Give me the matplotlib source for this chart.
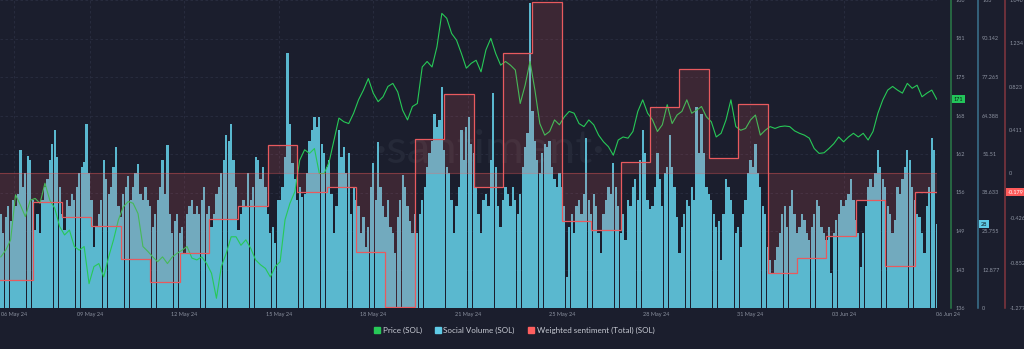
import numpy as np
import matplotlib.pyplot as plt
import matplotlib.transforms as mtransforms
from matplotlib.lines import Line2D

plt.rcParams['font.family'] = ['Lato', 'DejaVu Sans']

# social volume (SOL), 2-hourly, first bar 05 May 24 22:00
volume = [
    31.6, 25, 30.5, 34, 29, 36, 34, 38, 53, 40.6, 45, 51,
    49.5, 36, 26, 31.6, 25, 36, 40.6, 43, 49.5, 55, 59.5, 50.6,
    40.6, 31.6, 26, 36, 34, 38, 36, 40.6, 45, 47, 49, 61.7,
    45, 36, 20.5, 27, 31.6, 36, 49.5, 43, 38, 40.6, 47, 54,
    34, 30.5, 38, 40.6, 44, 36, 40.6, 45, 48, 38, 36, 40.6,
    36, 34, 27, 31.6, 36, 40.6, 49.5, 38, 54.5, 31.6, 25, 29,
    31.6, 25, 27, 18, 31.6, 34, 36, 31.6, 34, 31.6, 36, 40.6,
    31.6, 34, 27, 31.6, 38, 40.6, 45, 49.5, 57.8, 56, 61.7, 49.5,
    40.6, 26, 31.6, 36, 34, 45, 36, 40.6, 50.6, 49.5, 43, 47,
    40.6, 31.6, 25, 27, 21.6, 36, 36, 40.6, 50.6, 85.2, 61.7, 48.4,
    43, 36, 40.6, 37, 38, 45, 56, 59.5, 64, 60.6, 64, 55,
    51.7, 47, 49.5, 38, 25, 34, 59.5, 50.6, 54, 45, 51.7, 31.6,
    40.6, 36, 34, 25, 30.5, 20.5, 27, 40.6, 48.4, 36, 55.6, 40.6,
    34, 30.5, 36, 27, 25, 18.3, 30.5, 36, 44.5, 40.6, 34, 29,
    25, 31.6, 25, 31.6, 36, 40.6, 47, 51.7, 56, 65, 60.6, 62.8,
    73.8, 52.8, 47, 45, 36, 25, 34, 40.6, 59.5, 49.5, 60.6, 64,
    55, 51.7, 40.6, 31.6, 25, 36, 38, 34, 49.5, 71.8, 47, 34,
    27, 36, 40.6, 38, 34, 40.6, 36, 31.6, 38, 47, 54, 58.4,
    102, 66, 56, 49.5, 45, 51.7, 55, 54, 56, 47, 43, 40.6,
    45, 40.6, 34, 10.5, 27, 31.6, 25, 34, 36, 31.6, 38, 56.7,
    36, 31.6, 38, 34, 25, 18.3, 31.6, 36, 40.6, 38, 48.4, 40.6,
    34, 25, 31.6, 22.7, 36, 34, 40.6, 43, 36, 49.5, 59.5, 51.7,
    36, 33, 34, 40.6, 51.7, 43, 34, 45, 47, 57.8, 47, 40.6,
    30.5, 18.3, 27, 31.6, 36, 34, 40.6, 36, 67.3, 51.7, 65, 51.7,
    40.6, 38, 36, 31.6, 27, 29, 16, 31.6, 43, 40.6, 36, 31.6,
    25, 27, 20.5, 31.6, 36, 45, 49.5, 47, 55, 45, 40.6, 34,
    31.6, 20.5, 16, 11.6, 16, 20.5, 25, 31.6, 34, 27, 34, 39.5,
    31.6, 25, 27, 31.6, 29.4, 25, 22.7, 27, 31.6, 36, 34, 27,
    25, 22.7, 27, 11.6, 25, 29.4, 31.6, 36, 34, 36, 38, 43,
    36, 29.4, 25, 13.8, 25, 34, 40.6, 43, 40.6, 45, 52.8, 47,
    43, 40.6, 34, 31.6, 25, 29.4, 40.6, 38, 43, 47, 52.8, 49.5,
    40.6, 36, 31.6, 30.5, 25, 18.3, 34, 40.6, 56.7, 52.8, 28,
]

# price (SOL), 4-hourly, same start
price = [
    145.0, 146.1, 147.8, 155.2, 153.5, 151.6, 154.3, 154.6, 153.8, 157.1, 154.3, 153.0,
    150.0, 148.6, 149.4, 146.7, 146.1, 146.7, 140.6, 143.4, 143.9, 141.7, 145.0, 147.8,
    151.1, 153.2, 154.1, 153.8, 152.1, 146.7, 145.9, 145.0, 144.2, 145.0, 143.9, 145.0,
    145.6, 146.1, 146.7, 144.8, 144.5, 145.0, 143.9, 142.3, 138.2, 143.4, 145.6, 148.3,
    148.3, 146.9, 147.8, 146.4, 144.5, 143.7, 143.1, 141.7, 143.4, 144.2, 151.1, 153.8,
    155.7, 160.9, 162.6, 162.0, 162.8, 158.7, 158.7, 160.6, 164.2, 167.8, 167.2, 166.9,
    168.6, 170.8, 172.4, 174.3, 171.9, 170.5, 171.3, 173.0, 173.5, 172.1, 169.1, 167.5,
    169.7, 170.2, 176.2, 177.1, 176.2, 179.5, 185.0, 184.2, 181.7, 180.6, 178.4, 176.0,
    176.8, 177.3, 175.4, 179.0, 180.9, 178.4, 176.5, 177.1, 176.5, 175.7, 170.2, 173.2,
    177.1, 172.4, 166.9, 165.0, 165.6, 167.5, 166.7, 168.0, 168.9, 168.6, 166.9, 166.4,
    167.5, 166.7, 165.0, 163.9, 163.1, 161.7, 164.2, 164.7, 164.5, 165.6, 168.9, 170.8,
    168.6, 167.5, 165.6, 166.7, 170.0, 166.9, 168.3, 168.9, 170.8, 168.6, 169.1, 169.7,
    168.0, 167.2, 164.7, 165.3, 167.5, 170.8, 166.4, 165.8, 166.1, 167.5, 168.3, 165.0,
    165.8, 166.4, 166.1, 166.4, 166.5, 166.4, 165.7, 165.3, 165.0, 164.5, 162.8, 162.0,
    162.1, 162.8, 163.6, 164.7, 163.9, 164.7, 165.3, 164.7, 165.3, 164.2, 165.6, 168.6,
    170.8, 172.4, 173.0, 172.4, 171.9, 173.5, 172.7, 173.2, 171.3, 171.9, 172.4, 170.9,
]

# weighted sentiment (total), daily, 05 May .. 06 Jun
sentiment = [-1.01, -1.01, -0.27, -0.417, -0.502, -0.81, -1.03, -0.756, -0.429, -0.308,
             0.274, -0.178, -0.131, -0.746, -1.27, 0.328, 0.757, -0.131, 1.142, 1.63,
             -0.448, -0.534, 0.11, 0.627, 0.987, 0.142, 0.659, -0.947, -0.804, -0.591,
             -0.254, -0.883, -0.179]

date_labels = ['06 May 24', '09 May 24', '12 May 24', '15 May 24', '18 May 24', '21 May 24',
               '25 May 24', '28 May 24', '31 May 24', '03 Jun 24', '06 Jun 24']
date_pos = [0.36, 2.95, 6.15, 9.37, 12.57, 15.8, 19.0, 22.2, 25.4, 28.6, 32.13]

price_ticks = ['136', '143', '149', '156', '162', '168', '175', '181', '186']
volume_ticks = ['0', '12.877', '25.755', '38.633', '51.51', '64.388', '77.265', '90.142', '103']
sent_ticks = [-1.277, -0.852, -0.426, 0, 0.411, 0.823, 1.234, 1.646]

# days from 06 May 24 00:00
vol_t = -1 / 12 + np.arange(len(volume)) / 12
price_t = -1 / 12 + np.arange(len(price)) / 6
sent_edges = np.arange(-1, len(sentiment))

bg = '#1b1e2d'
c_price = '#27c957'
c_vol = '#5ab8cf'
c_sent = '#ff5f5f'

fig = plt.figure(figsize=(10.24, 3.49), dpi=100, facecolor=bg)
ax = fig.add_axes([0, 1 - 308 / 349, 937 / 1024, 308 / 349])
ax.set_facecolor(bg)
ax_p = ax.twinx()
ax_s = ax.twinx()

# social volume bars
ax.bar(vol_t, volume, width=1 / 12 * 0.92, color=c_vol, linewidth=0, zorder=2)
ax.set_ylim(0, 103.02)
ax.set_yticks(np.linspace(0, 103.02, 9))
ax.set_yticklabels(volume_ticks)
ax.set_xlim(-0.112, 31.76)
ax.set_xticks(date_pos[:-1])
ax.set_xticklabels(date_labels[:-1])
ax.set_axisbelow(True)
ax.grid(True, color='#2a2e41', linestyle=(0, (3, 3)), linewidth=0.6)
ax.text(0.523, 0.513, '\u00b7santiment\u00b7', transform=ax.transAxes, fontsize=34,
        color='#252938', ha='center', va='center', zorder=1)
tr = mtransforms.blended_transform_factory(ax.transData, ax.transAxes)
ax.text(date_pos[-1], -0.013, date_labels[-1], transform=tr, ha='center', va='top',
        fontsize=4, color='#8d93a1', clip_on=False)

# price line
ax_p.plot(price_t, price, color=c_price, linewidth=0.8)
ax_p.set_ylim(136.6, 187.2)
ax_p.set_yticks(np.linspace(136.6, 187.2, 9))
ax_p.set_yticklabels(price_ticks)

# sentiment steps, filled to zero
ax_s.stairs(sentiment, sent_edges, baseline=0, fill=True, color=c_sent, alpha=0.15, linewidth=0)
ax_s.stairs(sentiment, sent_edges, baseline=None, color='#e85a5e', linewidth=0.9)
ax_s.axhline(0, color=c_sent, alpha=0.35, linewidth=0.8)
ax_s.set_ylim(-1.277, 1.646)
ax_s.set_yticks(sent_ticks)
ax_s.set_yticklabels([('%g' % v) for v in sent_ticks])

for a, pos, col in [(ax_p, 951 / 937, '#2a7b48'), (ax, 978 / 937, '#3b7390'), (ax_s, 1005 / 937, '#83363f')]:
    for s in ['top', 'left', 'bottom']:
        a.spines[s].set_visible(False)
    a.spines['right'].set_visible(True)
    a.spines['right'].set_position(('axes', pos))
    a.spines['right'].set_color(col)
    a.spines['right'].set_linewidth(1.1)
    a.yaxis.tick_right()
    a.tick_params(axis='y', length=0, labelsize=4, labelcolor='#8d93a1', pad=3)
ax.tick_params(axis='x', length=0, labelsize=4, labelcolor='#8d93a1', pad=3)

# current value badges
for a, pos, val, txt, fc, tc in [
        (ax_p, 951 / 937, price[-1], '%.0f' % price[-1], '#22c55a', '#0d1a12'),
        (ax, 978 / 937, volume[-1], '%.0f' % volume[-1], '#5fcbe6', '#0d1a22'),
        (ax_s, 1005 / 937, sentiment[-1], '%.3f' % sentiment[-1], '#ff5b5b', 'white')]:
    t = mtransforms.blended_transform_factory(a.transAxes, a.transData)
    a.text(pos + 0.003, val, txt, transform=t, ha='left', va='center', fontsize=4,
           color=tc, clip_on=False, bbox=dict(boxstyle='square,pad=0.3', fc=fc, ec='none'))

handles = [Line2D([], [], marker='s', linestyle='none', markersize=4, color=c)
           for c in [c_price, '#5fcbe6', c_sent]]
fig.legend(handles, ['Price (SOL)', 'Social Volume (SOL)', 'Weighted sentiment (Total) (SOL)'],
           loc='center', bbox_to_anchor=(0.502, 0.052), ncol=3, frameon=False, fontsize=5.8,
           labelcolor='#c8cbd4', handlelength=0.8, handletextpad=0.3, columnspacing=1.6)

fig.savefig('out.png', dpi=100, facecolor=bg)
